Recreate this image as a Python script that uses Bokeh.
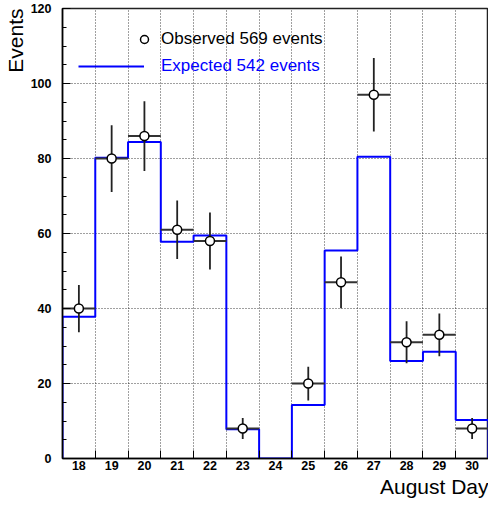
import numpy as np
from bokeh.plotting import figure
from bokeh.models import (Range1d, FixedTicker, SingleIntervalTicker, Legend,
                          LegendItem, Title, ColumnDataSource)
from bokeh.embed import file_html
from bokeh.resources import INLINE

# ---- data ----
days = [18, 19, 20, 21, 22, 23, 24, 25, 26, 27, 28, 29, 30]
observed = [40, 80, 86, 61, 58, 8, 0, 20, 47, 97, 31, 33, 8]
observed_err = [6.3, 8.9, 9.3, 7.8, 7.6, 2.8, 0.0, 4.5, 6.9, 9.8, 5.6, 5.7, 2.8]
expected = [37.8, 80.2, 84.4, 57.8, 59.5, 7.8, 0.0, 14.3, 55.5, 80.5, 26.0, 28.5, 10.3]
y_ticks = [0, 20, 40, 60, 80, 100, 120]
obs_label = "Observed 569 events"
exp_label = "Expected 542 events"

FONT = "Liberation Sans"
BLUE = "#0000ff"

d = np.array(days, dtype=float)
o = np.array(observed, dtype=float)
oe = np.array(observed_err, dtype=float)
e = np.array(expected, dtype=float)
edges = np.append(d - 0.5, d[-1] + 0.5)

p = figure(width=488, height=516, output_backend="svg", toolbar_location=None,
           x_range=Range1d(edges[0], edges[-1]), y_range=Range1d(y_ticks[0], y_ticks[-1]),
           min_border_left=59, min_border_right=0, min_border_top=16, min_border_bottom=50,
           styles={"margin-top": "-8px", "margin-right": "-8px", "margin-bottom": "-8px"})
p.background_fill_color = "white"
p.border_fill_color = "white"
p.outline_line_color = "#222222"
p.outline_line_width = 1.5

# grids
p.xgrid.ticker = FixedTicker(ticks=list(edges[1:-1]))
p.ygrid.ticker = FixedTicker(ticks=y_ticks[1:-1])
for g in (p.xgrid, p.ygrid):
    g.grid_line_color = "black"
    g.grid_line_alpha = 0.75
    g.grid_line_dash = "1 2"
    g.grid_line_width = 1

# x axis: labels at bin centres, tick marks at bin edges
xa = p.xaxis[0]
xa.ticker = FixedTicker(ticks=days, minor_ticks=list(edges[1:-1]))
xa.major_tick_line_color = None
xa.major_tick_in = 0
xa.major_tick_out = 0
xa.minor_tick_in = 8
xa.minor_tick_out = 0
xa.minor_tick_line_color = "black"
xa.minor_tick_line_width = 1
xa.major_label_standoff = 2

ya = p.yaxis[0]
ya.ticker = SingleIntervalTicker(interval=20, num_minor_ticks=4)
ya.major_tick_in = 8
ya.major_tick_out = 0
ya.minor_tick_in = 4
ya.minor_tick_out = 0
ya.major_label_standoff = 11

for ax in (xa, ya):
    ax.axis_line_color = "black"
    ax.axis_line_width = 1.5
    ax.major_label_text_font = FONT
    ax.major_label_text_font_size = "12.5px"
    ax.major_label_text_font_style = "bold"
    ax.major_label_text_color = "black"

# expected histogram outline
xs = np.repeat(edges, 2)
ys = np.concatenate([[0.0], np.repeat(e, 2), [0.0]])
hist = p.line(xs, ys, line_color=BLUE, line_width=2)

# observed points (empty bins not drawn)
mask = o > 0
src = ColumnDataSource(dict(x=d[mask], y=o[mask], lo=(o - oe)[mask], hi=(o + oe)[mask],
                            xl=(d - 0.5)[mask], xr=(d + 0.5)[mask]))
p.segment(x0="xl", y0="y", x1="xr", y1="y", source=src, line_color="#333333", line_width=2)
p.segment(x0="x", y0="lo", x1="x", y1="hi", source=src, line_color="#222222", line_width=1.8)
pts = p.scatter(x="x", y="y", source=src, marker="circle", size=9,
                fill_color="white", line_color="black", line_width=1.5)

# legends
leg1 = Legend(items=[LegendItem(label=obs_label, renderers=[pts])],
              location=(72, 409), glyph_width=20, glyph_height=20, label_height=20,
              label_standoff=7, padding=0, margin=0, spacing=0,
              border_line_alpha=0, background_fill_alpha=0,
              label_text_font=FONT, label_text_font_size="17px", label_text_color="black")
leg2 = Legend(items=[LegendItem(label=exp_label, renderers=[hist])],
              location=(16, 382), glyph_width=66, glyph_height=20, label_height=20,
              label_standoff=17, padding=0, margin=0, spacing=0,
              border_line_alpha=0, background_fill_alpha=0,
              label_text_font=FONT, label_text_font_size="17px", label_text_color=BLUE)
p.add_layout(leg1, "center")
p.add_layout(leg2, "center")

# axis titles
p.add_layout(Title(text="Events", align="right", text_font=FONT, text_font_size="21px",
                   text_font_style="normal", text_color="black", offset=0, standoff=2), "left")
p.add_layout(Title(text="August Day", align="right", text_font=FONT, text_font_size="21px",
                   text_font_style="normal", text_color="black", standoff=0), "below")

open("out.html", "w").write(file_html(p, INLINE))
